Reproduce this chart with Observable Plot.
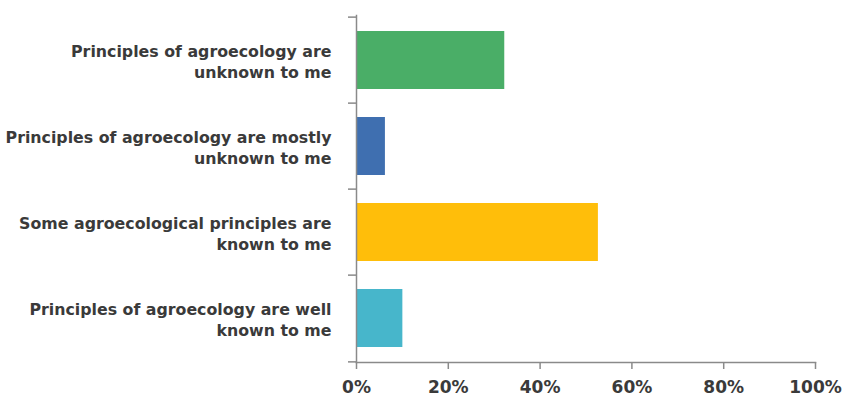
<!DOCTYPE html>
<html>
<head>
<meta charset="utf-8">
<script src="https://cdn.jsdelivr.net/npm/d3@7"></script>
<script src="https://cdn.jsdelivr.net/npm/@observablehq/plot@0.6"></script>
<style>
  html, body { margin: 0; padding: 0; background: #fff; }
</style>
</head>
<body>
<div id="chart"></div>
<script>
const categories = [
  "Principles of agroecology are\nunknown to me",
  "Principles of agroecology are mostly\nunknown to me",
  "Some agroecological principles are\nknown to me",
  "Principles of agroecology are well\nknown to me"
];
const values = [0.323, 0.063, 0.527, 0.101];
const barColors = ["#4aae67", "#3f6fb0", "#ffbe0a", "#47b6cb"];
const xTicks = [0, 0.2, 0.4, 0.6, 0.8, 1];

const data = categories.map((c, i) => ({category: c, value: values[i]}));

const W = 842, H = 397;
const mTop = 15, mBottom = 35, mLeft = 356, mRight = 27;
const step = (H - mTop - mBottom) / categories.length;
const axisColor = "#8a8a8a";
const textColor = "#3a3a3a";

const chart = Plot.plot({
  width: W,
  height: H,
  marginTop: mTop,
  marginBottom: mBottom,
  marginLeft: mLeft,
  marginRight: mRight,
  style: {fontFamily: "'DejaVu Sans', sans-serif", fontWeight: 700, color: textColor, background: "#fff"},
  x: {domain: [0, 1], label: null},
  y: {domain: categories, paddingInner: 0.33, paddingOuter: 0.165, label: null},
  color: {domain: categories, range: barColors},
  marks: [
    Plot.barX(data, {x: "value", y: "category", fill: "category"}),
    Plot.frame({anchor: "left", stroke: axisColor, strokeWidth: 1.5}),
    Plot.frame({anchor: "bottom", stroke: axisColor, strokeWidth: 1.5}),
    Plot.axisY({tickSize: 0, tickPadding: 25, fontSize: 15.8, lineHeight: 1.37, fill: textColor, label: null, tickFormat: d => d}),
    Plot.axisY({ticks: categories, tickSize: 8, tickFormat: null, label: null, stroke: axisColor, strokeWidth: 1.5, dy: -step / 2}),
    Plot.axisY({ticks: categories.slice(-1), tickSize: 8, tickFormat: null, label: null, stroke: axisColor, strokeWidth: 1.5, dy: step / 2}),
    Plot.axisX({ticks: xTicks, tickSize: 7, tickPadding: 11, fontSize: 17, label: null, fill: textColor, stroke: axisColor, strokeWidth: 1.5, tickFormat: d3.format(".0%")})
  ]
});
document.getElementById("chart").appendChild(chart);
</script>
</body>
</html>
